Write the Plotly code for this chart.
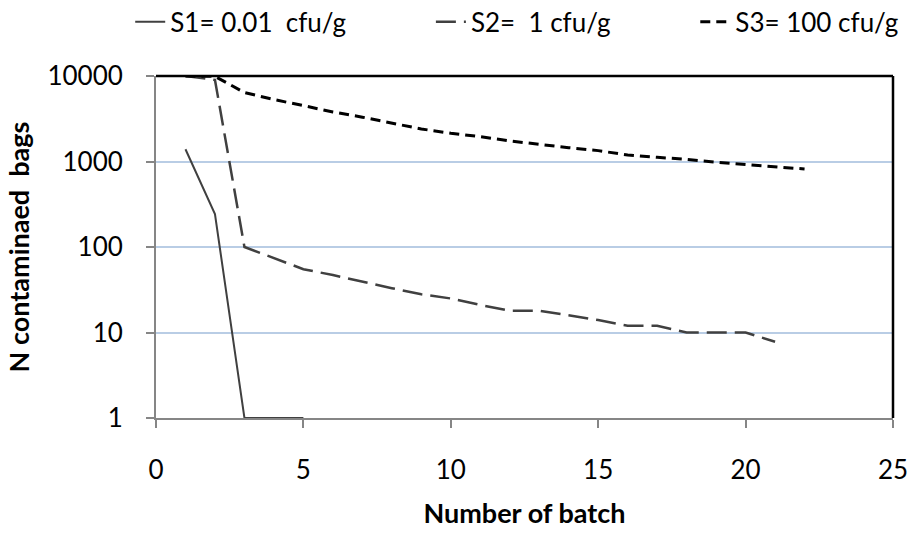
import plotly.graph_objects as go

batch_s1 = [1, 2, 3, 4, 5]
s1_values = [1390, 243, 1, 1, 1]

batch_s2 = list(range(1, 22))
s2_values = [10000, 9000, 100, 74, 55, 47, 39, 33, 28, 25, 21, 18, 18, 16, 14, 12, 12, 10, 10, 10, 7.8]

batch_s3 = list(range(1, 23))
s3_values = [10000, 9900, 6400, 5300, 4500, 3800, 3300, 2800, 2400, 2140, 1950, 1740,
             1580, 1450, 1340, 1190, 1120, 1060, 980, 927, 870, 817]

PAD = "\u00a0" * 12
names = ["S1= 0.01\u00a0 cfu/g" + PAD, "S2=\u00a0 1 cfu/g" + PAD, "S3= 100 cfu/g"]
y_ticks = [1, 10, 100, 1000, 10000]
x_ticks = [0, 5, 10, 15, 20, 25]

FONT = "Lato"

fig = go.Figure()
fig.add_trace(go.Scatter(x=batch_s1, y=s1_values, mode="lines", name=names[0],
                         line=dict(color="#404040", width=2)))
fig.add_trace(go.Scatter(x=batch_s2, y=s2_values, mode="lines", name=names[1],
                         line=dict(color="#404040", width=2.5, dash="20px,8px")))
fig.add_trace(go.Scatter(x=batch_s3, y=s3_values, mode="lines", name=names[2],
                         line=dict(color="#000000", width=3, dash="10px,6px")))

fig.update_layout(
    width=911, height=541,
    margin=dict(l=156, r=18, t=76, b=123, autoexpand=False),
    paper_bgcolor="white", plot_bgcolor="white",
    font=dict(family=FONT, size=26, color="#000000"),
    showlegend=True,
    legend=dict(orientation="h", x=-0.035, xanchor="left", y=1.158, yanchor="middle",
                font=dict(family=FONT, size=26, color="#000000"),
                bgcolor="rgba(0,0,0,0)", itemwidth=30, tracegroupgap=0),
    xaxis=dict(range=[0, 25], tickvals=x_ticks, ticktext=[str(v) for v in x_ticks],
               showline=True, linecolor="#868686", linewidth=2,
               ticks="outside", ticklen=8, tickwidth=2, tickcolor="#868686",
               showgrid=False, zeroline=False, automargin=False,
               ticklabelstandoff=20,
               tickfont=dict(family=FONT, size=26, color="#000000"),
               title=dict(text="<b>Number of batch</b>", standoff=20,
                          font=dict(family=FONT, size=27, color="#000000"))),
    yaxis=dict(type="log", range=[0, 4], tickvals=y_ticks, ticktext=[str(v) for v in y_ticks],
               showline=True, linecolor="#868686", linewidth=2,
               ticks="outside", ticklen=8, tickwidth=2, tickcolor="#868686",
               showgrid=True, gridcolor="#B9CDE5", gridwidth=2, zeroline=False,
               automargin=False, ticklabelstandoff=18,
               tickfont=dict(family=FONT, size=26, color="#000000"),
               title=dict(text="<b>N contaminaed  bags</b>", standoff=10,
                          font=dict(family=FONT, size=27, color="#000000"))),
)

# black frame on top and right edges of plot area
fig.add_shape(type="line", xref="paper", yref="paper", x0=0, x1=1, y0=1, y1=1,
              line=dict(color="#000000", width=2.5))
fig.add_shape(type="line", xref="paper", yref="paper", x0=1, x1=1, y0=0, y1=1,
              line=dict(color="#000000", width=2.5))

fig.write_html("out.html")
